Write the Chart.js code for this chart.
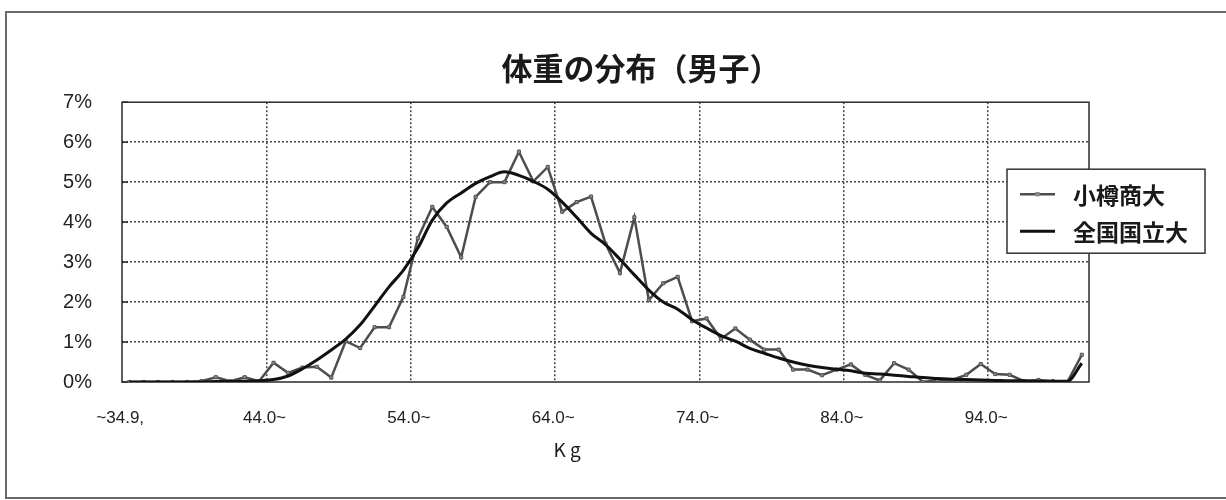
<!DOCTYPE html>
<html lang="ja">
<head>
<meta charset="utf-8">
<title>体重の分布（男子）</title>
<script src="https://cdn.jsdelivr.net/npm/chart.js@4.4.1/dist/chart.umd.min.js"></script>
<style>
    html, body { margin: 0; padding: 0; background: #fff; overflow: hidden; }
    #frame {
        position: absolute;
        left: 5px;
        top: 11px;
        width: 1268px;
        height: 484px;
        border: 2px solid #6a6a6a;
        border-right: none;
        background: #fff;
    }
    #frame canvas { display: block; }
</style>
</head>
<body>
<div id="frame"><canvas id="weightChart" width="1268" height="484"></canvas></div>
<script>
// weight classes (kg), one per 1 kg step
const weightClasses = [
    '~34.9,', '35.0~', '36.0~', '37.0~', '38.0~', '39.0~', '40.0~', '41.0~', '42.0~', '43.0~',
    '44.0~', '45.0~', '46.0~', '47.0~', '48.0~', '49.0~', '50.0~', '51.0~', '52.0~', '53.0~',
    '54.0~', '55.0~', '56.0~', '57.0~', '58.0~', '59.0~', '60.0~', '61.0~', '62.0~', '63.0~',
    '64.0~', '65.0~', '66.0~', '67.0~', '68.0~', '69.0~', '70.0~', '71.0~', '72.0~', '73.0~',
    '74.0~', '75.0~', '76.0~', '77.0~', '78.0~', '79.0~', '80.0~', '81.0~', '82.0~', '83.0~',
    '84.0~', '85.0~', '86.0~', '87.0~', '88.0~', '89.0~', '90.0~', '91.0~', '92.0~', '93.0~',
    '94.0~', '95.0~', '96.0~', '97.0~', '98.0~', '99.0~', '100.0~'
];

// share of students per class (%)
const otaruShare = [
    0, 0, 0, 0, 0, 0.02, 0.12, 0.02, 0.12, 0.02,
    0.48, 0.23, 0.36, 0.38, 0.11, 1.02, 0.85, 1.37, 1.37, 2.13,
    3.6, 4.38, 3.88, 3.12, 4.63, 5.0, 5.0, 5.76, 5.02, 5.38,
    4.26, 4.5, 4.64, 3.46, 2.73, 4.12, 2.05, 2.47, 2.63, 1.52,
    1.59, 1.08, 1.34, 1.06, 0.81, 0.81, 0.31, 0.31, 0.17, 0.31,
    0.44, 0.18, 0.04, 0.47, 0.31, 0, 0.05, 0.05, 0.18, 0.45,
    0.2, 0.18, 0.02, 0.05, 0.02, 0, 0.68
];

const nationalShare = [
    0, 0, 0, 0, 0, 0, 0.01, 0.01, 0.02, 0.03,
    0.06, 0.15, 0.33, 0.55, 0.8, 1.07, 1.43, 1.9, 2.38, 2.8,
    3.35, 4.05, 4.48, 4.73, 4.97, 5.14, 5.26, 5.17, 5.02, 4.82,
    4.5, 4.12, 3.72, 3.44, 3.07, 2.68, 2.3, 2.0, 1.82, 1.56,
    1.35, 1.16, 1.02, 0.84, 0.72, 0.6, 0.5, 0.42, 0.36, 0.32,
    0.28, 0.22, 0.2, 0.17, 0.14, 0.11, 0.09, 0.07, 0.06, 0.05,
    0.04, 0.03, 0.03, 0.02, 0.02, 0.02, 0.47
];

const seriesNames = ['小樽商大', '全国国立大'];
const yTicks = [0, 1, 2, 3, 4, 5, 6, 7];
const labelEvery = 10;

const jpFont = '"Noto Sans CJK JP", "Noto Sans", sans-serif';
const numFont = '"Liberation Sans Narrow", "Liberation Sans", Arial, sans-serif';

// plot frame, legend box and the unit label under the axis
const decorations = {
    id: 'decorations',
    beforeDatasetsDraw(chart) {
        const { ctx, chartArea: a } = chart;
        ctx.save();
        ctx.strokeStyle = '#2a2a2a';
        ctx.lineWidth = 1.5;
        ctx.strokeRect(a.left, a.top, a.right - a.left, a.bottom - a.top);
        // short inside ticks on the value axis
        const y = chart.scales.y;
        yTicks.forEach(v => {
            const py = y.getPixelForValue(v);
            ctx.beginPath();
            ctx.moveTo(a.left, py);
            ctx.lineTo(a.left + 6, py);
            ctx.stroke();
        });
        ctx.restore();
    },
    afterDraw(chart) {
        const { ctx, chartArea: a } = chart;
        const sets = chart.data.datasets;
        ctx.save();

        // legend
        const x0 = a.right - 82, y0 = a.top + 67, w = 198, h = 84;
        ctx.fillStyle = '#fff';
        ctx.fillRect(x0, y0, w, h);
        ctx.strokeStyle = '#333';
        ctx.lineWidth = 1.5;
        ctx.strokeRect(x0, y0, w, h);

        sets.forEach((ds, i) => {
            const ly = y0 + 25 + i * 37;
            ctx.strokeStyle = ds.borderColor;
            ctx.lineWidth = ds.borderWidth;
            ctx.beginPath();
            ctx.moveTo(x0 + 13, ly);
            ctx.lineTo(x0 + 48, ly);
            ctx.stroke();
            if (ds.pointRadius > 0) {
                ctx.fillStyle = ds.pointBackgroundColor;
                ctx.fillRect(x0 + 30.5 - ds.pointRadius, ly - ds.pointRadius, ds.pointRadius * 2, ds.pointRadius * 2);
            }
            ctx.fillStyle = '#1a1a1a';
            ctx.font = 'bold 23px ' + jpFont;
            ctx.textBaseline = 'middle';
            ctx.textAlign = 'left';
            ctx.fillText(ds.label, x0 + 66, ly + 1);
        });

        // unit
        ctx.fillStyle = '#1a1a1a';
        ctx.font = '19px ' + jpFont;
        ctx.textAlign = 'center';
        ctx.textBaseline = 'middle';
        ctx.fillText('K g', a.left + 445, a.bottom + 68);
        ctx.restore();
    }
};

new Chart(document.getElementById('weightChart'), {
    type: 'line',
    data: {
        labels: weightClasses,
        datasets: [{
            label: seriesNames[0],
            data: otaruShare,
            borderColor: '#4d4d4d',
            borderWidth: 2.5,
            pointStyle: 'rect',
            pointRadius: 2.2,
            pointBackgroundColor: '#8a8a8a',
            pointBorderColor: '#555',
            pointBorderWidth: 1,
            tension: 0,
            order: 1
        }, {
            label: seriesNames[1],
            data: nationalShare,
            borderColor: '#111',
            borderWidth: 3,
            pointRadius: 0,
            cubicInterpolationMode: 'monotone',
            tension: 0.4,
            order: 0
        }]
    },
    options: {
        responsive: false,
        devicePixelRatio: 1,
        animation: false,
        events: [],
        layout: { padding: 0 },
        plugins: {
            legend: { display: false },
            tooltip: { enabled: false },
            title: {
                display: true,
                text: '体重の分布（男子）',
                color: '#1a1a1a',
                font: { family: jpFont, size: 31, weight: 'bold', lineHeight: 1.2 },
                padding: { top: 37, bottom: 15 }
            }
        },
        scales: {
            x: {
                type: 'category',
                offset: true,
                afterFit(scale) { scale.height = 115; },
                grid: {
                    offset: true,
                    drawTicks: false,
                    lineWidth: 1.5,
                    color: ctx => (ctx.index > 0 && ctx.index % labelEvery === 0) ? '#444' : 'rgba(0,0,0,0)'
                },
                border: { display: false, dash: [2, 2] },
                ticks: {
                    autoSkip: false,
                    maxRotation: 0,
                    minRotation: 0,
                    padding: 26,
                    labelOffset: -9,
                    color: '#222',
                    font: { family: numFont, size: 17 },
                    callback: (value, index) => index % labelEvery === 0 ? weightClasses[index] : ''
                }
            },
            y: {
                min: 0,
                max: 7,
                afterFit(scale) { scale.width = 115; },
                afterBuildTicks(scale) { scale.ticks = yTicks.map(v => ({ value: v })); },
                grid: {
                    drawTicks: false,
                    lineWidth: 1.5,
                    color: ctx => (ctx.tick && ctx.tick.value > 0 && ctx.tick.value < 7) ? '#444' : 'rgba(0,0,0,0)'
                },
                border: { display: false, dash: [2, 2] },
                ticks: {
                    padding: 30,
                    color: '#222',
                    font: { family: '"Liberation Sans", Arial, sans-serif', size: 20 },
                    callback: value => value + '%'
                }
            },
            // empty right-hand axis: keeps the plot clear of the legend column
            // while the title stays centred on the whole chart
            rightGap: {
                position: 'right',
                afterFit(scale) { scale.width = 186; },
                grid: { display: false, drawOnChartArea: false },
                border: { display: false },
                ticks: { display: false }
            }
        }
    },
    plugins: [decorations]
});
</script>
</body>
</html>
